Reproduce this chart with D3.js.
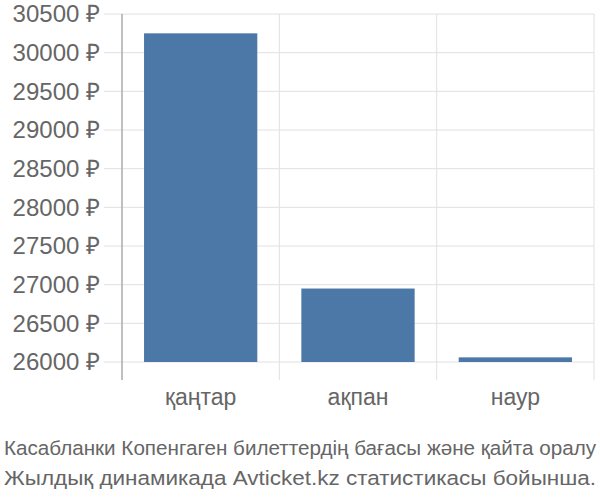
<!DOCTYPE html>
<html>
<head>
<meta charset="utf-8">
<script src="https://cdn.jsdelivr.net/npm/d3@7"></script>
<style>
  body { margin: 0; background: #fff; }
  text { font-family: "Liberation Sans", Arial, sans-serif; fill: #666; }
</style>
</head>
<body>
<svg width="600" height="500"></svg>
<script>
const months = ['қаңтар', 'ақпан', 'наур'];
const prices = [30250, 26950, 26060];
const yTicks = [26000, 26500, 27000, 27500, 28000, 28500, 29000, 29500, 30000, 30500];
const titleLines = [
  'Касабланки Копенгаген билеттердің бағасы және қайта оралу',
  'Жылдық динамикада Avticket.kz статистикасы бойынша.'
];

const svg = d3.select('svg');
const plotLeft = 122, plotRight = 594, plotTop = 14, plotBase = 362, axisBottom = 380;

const x = d3.scaleBand().domain(months).range([plotLeft, plotRight]);
const y = d3.scaleLinear().domain([26000, 30500]).range([plotBase, plotTop]);

// horizontal grid
svg.append('g').selectAll('line')
  .data(yTicks)
  .enter().append('line')
    .attr('x1', plotLeft - 18)
    .attr('x2', plotRight)
    .attr('y1', d => y(d))
    .attr('y2', d => y(d))
    .attr('stroke', '#e0e0e0')
    .attr('stroke-width', 1);

// vertical grid
svg.append('g').selectAll('line')
  .data(months.map(m => x(m) + x.bandwidth()))
  .enter().append('line')
    .attr('x1', d => d)
    .attr('x2', d => d)
    .attr('y1', plotTop)
    .attr('y2', axisBottom)
    .attr('stroke', '#e0e0e0')
    .attr('stroke-width', 1);

// y axis line
svg.append('line')
  .attr('x1', plotLeft).attr('x2', plotLeft)
  .attr('y1', plotTop).attr('y2', axisBottom)
  .attr('stroke', '#aaa')
  .attr('stroke-width', 1.5);

// bars
const pad = x.bandwidth() * 0.14;
svg.append('g').selectAll('rect')
  .data(prices)
  .enter().append('rect')
    .attr('x', (d, i) => x(months[i]) + pad)
    .attr('width', x.bandwidth() - 2 * pad)
    .attr('y', d => y(d))
    .attr('height', d => plotBase - y(d))
    .attr('fill', '#4c78a8');

// y labels
svg.append('g').selectAll('text')
  .data(yTicks)
  .enter().append('text')
    .attr('x', 100)
    .attr('y', d => y(d))
    .attr('dy', '0.35em')
    .attr('text-anchor', 'end')
    .style('font-size', '24px')
    .text(d => d + ' ₽');

// x labels
svg.append('g').selectAll('text')
  .data(months)
  .enter().append('text')
    .attr('x', d => x(d) + x.bandwidth() / 2)
    .attr('y', 405)
    .attr('text-anchor', 'middle')
    .style('font-size', '23px')
    .text(d => d);

// title, stretched to the full width like the original
svg.append('g').selectAll('text')
  .data(titleLines)
  .enter().append('text')
    .attr('x', 300)
    .attr('y', (d, i) => 455 + i * 30)
    .attr('text-anchor', 'middle')
    .attr('textLength', 592)
    .attr('lengthAdjust', 'spacingAndGlyphs')
    .style('font-size', '20.5px')
    .text(d => d);
</script>
</body>
</html>
